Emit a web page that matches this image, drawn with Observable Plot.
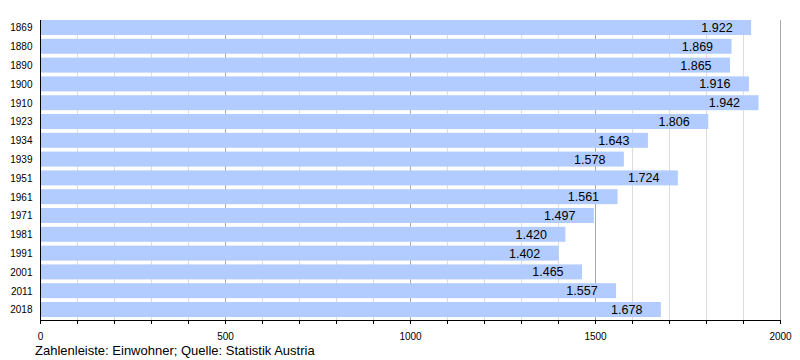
<!DOCTYPE html>
<html><head><meta charset="utf-8">
<script src="https://cdn.jsdelivr.net/npm/d3@7"></script>
<script src="https://cdn.jsdelivr.net/npm/@observablehq/plot@0.6"></script>
<style>
body{margin:0;background:#fff;font-family:"Liberation Sans",Arial,sans-serif;}
#cap{font-size:13px;color:#000;margin-left:35px;line-height:16px;margin-top:1px;}
</style></head>
<body><div id="chart"></div><div id="cap">Zahlenleiste: Einwohner; Quelle: Statistik Austria</div>
<script>
const years = ["1869","1880","1890","1900","1910","1923","1934","1939","1951","1961","1971","1981","1991","2001","2011","2018"];
const population = [1922,1869,1865,1916,1942,1806,1643,1578,1724,1561,1497,1420,1402,1465,1557,1678];
const minorGrid = d3.range(100, 2000, 100).filter(v => v % 500 !== 0);
const majorGrid = [500, 1000, 1500, 2000];
const xTicks = d3.range(0, 2001, 100);

const data = years.map((y, i) => ({year: y, value: population[i]}));
const fmt = v => d3.format(",")(v).replace(/,/g, ".");

const chart = Plot.plot({
  width: 800, height: 342,
  marginLeft: 40, marginRight: 20, marginTop: 20, marginBottom: 22,
  style: {fontFamily: "'Liberation Sans', Arial, sans-serif", fontSize: "10px", color: "#000"},
  x: {domain: [0, 2000]},
  y: {domain: years, padding: 0, round: false, range: [20, 320.8]},
  marks: [
    Plot.ruleX(minorGrid, {stroke: "#dddddd", strokeOpacity: 1}),
    Plot.ruleX(majorGrid, {stroke: "#aaaaaa", strokeOpacity: 1}),
    Plot.barX(data, {x: "value", y: "year", fill: "#b3ccff", insetBottom: 3.8}),
    Plot.text(data, {x: "value", y: "year", text: d => fmt(d.value), textAnchor: "end", dx: -19, dy: -1.9, fontSize: 12.5, fill: "#000"}),
    Plot.axisY({tickSize: 0, tickPadding: 8, dy: -1.7, label: null, fontSize: 10}),
    Plot.axisX({ticks: xTicks, tickSize: 4, tickPadding: 8, label: null, fontSize: 10,
      tickFormat: d => d % 500 === 0 ? String(d) : ""}),
    Plot.ruleX([0], {stroke: "#000"})
  ]
});
document.getElementById("chart").appendChild(chart);
// bottom axis line along the x scale's extent
const xr = chart.scale("x").range;
d3.select(chart).append("line")
  .attr("x1", xr[0]).attr("x2", xr[1])
  .attr("y1", 342 - 22 + 0.5).attr("y2", 342 - 22 + 0.5)
  .attr("stroke", "#000");
</script>
</body></html>
